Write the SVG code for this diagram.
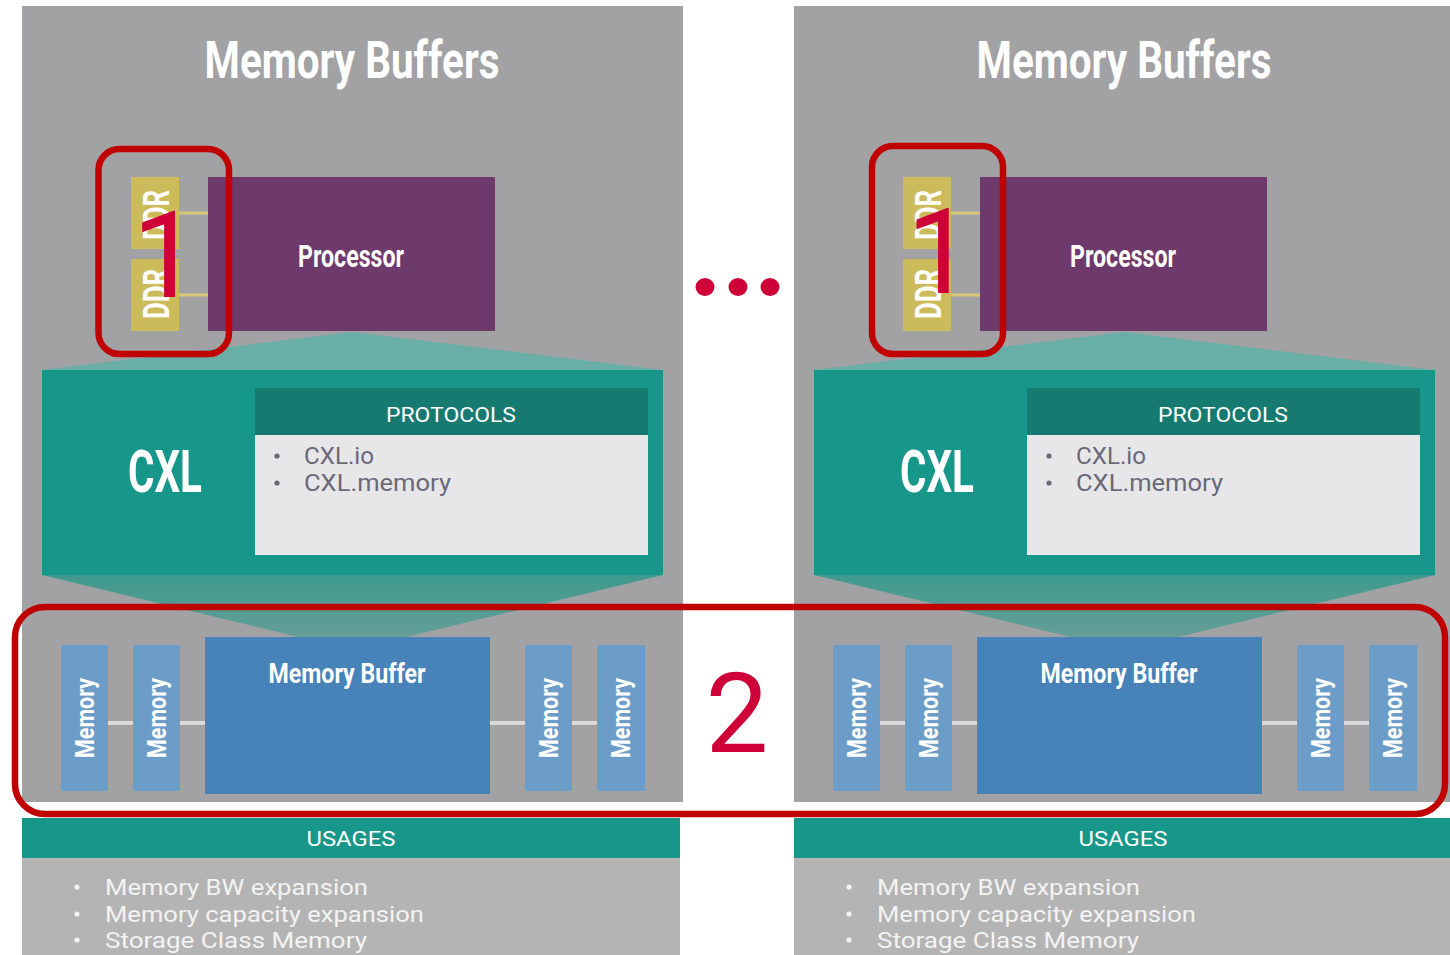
<svg xmlns="http://www.w3.org/2000/svg" width="1450" height="955" viewBox="0 0 1450 955">
<style>
.panel{fill:#a2a2a4}
.proc{fill:#6e3a6b}
.ddr{fill:#ccbb5a}
.cxl{fill:#17978a}
.phead{fill:#167a70}
.pbody{fill:#e7e7ea}
.mem{fill:#6c9dc8}
.buf{fill:#4782b8}
.uhead{fill:#17978a}
.ubody{fill:#b4b4b4}
.ddrline{stroke:#d8c978;stroke-width:3}
.memline{stroke:#dadada;stroke-width:4}
.t{font-family:Roboto,"Liberation Sans",sans-serif;fill:#fff}
.b{font-weight:bold}
.ptxt{font-family:Roboto,"Liberation Sans",sans-serif;fill:#6b6879;font-size:23px}
.utxt{font-family:Roboto,"Liberation Sans",sans-serif;fill:#f3f3f3;font-size:22px}
.redbox{fill:none;stroke:#c00000;stroke-width:6.5}
.num{font-family:Roboto,"Open Sans",sans-serif;fill:#cf0037}
</style>
<defs>
<linearGradient id="lowtri" x1="0" y1="0" x2="0" y2="1">
<stop offset="0" stop-color="#3f9a8d"/>
<stop offset="1" stop-color="#6c9f9a"/>
</linearGradient>
</defs>

<g id="left-panel">
  <rect class="panel" x="22" y="6" width="661" height="796"/>
  <text class="t b" x="352" y="78" font-size="52" text-anchor="middle" textLength="295" lengthAdjust="spacingAndGlyphs">Memory Buffers</text>
  <polygon fill="#69aea7" points="352,332 663,370 42,370"/>
  <polygon fill="url(#lowtri)" points="42,575 663,575 352,650"/>
  <g id="left-processor">
    <rect class="proc" x="208" y="177" width="287" height="154"/>
    <text class="t b" x="351" y="267" font-size="31" text-anchor="middle" textLength="106" lengthAdjust="spacingAndGlyphs">Processor</text>
  </g>
  <g id="left-ddr1">
    <rect class="ddr" x="131" y="177" width="48" height="72"/>
    <text class="t b" transform="translate(155.5,215) rotate(-90)" x="0" y="13" font-size="36" text-anchor="middle" textLength="50" lengthAdjust="spacingAndGlyphs">DDR</text>
  </g>
  <g id="left-ddr2">
    <rect class="ddr" x="131" y="259" width="48" height="72"/>
    <text class="t b" transform="translate(155.5,294) rotate(-90)" x="0" y="13" font-size="36" text-anchor="middle" textLength="50" lengthAdjust="spacingAndGlyphs">DDR</text>
  </g>
  <g id="left-cxl">
    <rect class="cxl" x="42" y="370" width="621" height="205"/>
    <text class="t b" x="165" y="492" font-size="60" text-anchor="middle" textLength="74" lengthAdjust="spacingAndGlyphs">CXL</text>
  </g>
  <g id="left-protocols">
    <rect class="phead" x="255" y="388" width="393" height="47"/>
    <rect class="pbody" x="255" y="435" width="393" height="120"/>
    <text class="t" x="451" y="422" font-size="21" text-anchor="middle" textLength="130" lengthAdjust="spacingAndGlyphs">PROTOCOLS</text>
    <circle cx="277" cy="456" r="2.6" fill="#6b6879"/>
    <circle cx="277" cy="483" r="2.6" fill="#6b6879"/>
    <text class="ptxt" x="304" y="464" textLength="70" lengthAdjust="spacingAndGlyphs">CXL.io</text>
    <text class="ptxt" x="304" y="491" textLength="147" lengthAdjust="spacingAndGlyphs">CXL.memory</text>
  </g>
  <g id="left-connectors">
    <line class="ddrline" x1="179" y1="213" x2="208" y2="213"/>
    <line class="ddrline" x1="179" y1="295" x2="208" y2="295"/>
    <line class="memline" x1="108" y1="723" x2="133" y2="723"/>
    <line class="memline" x1="180" y1="723" x2="205" y2="723"/>
    <line class="memline" x1="490" y1="723" x2="525" y2="723"/>
    <line class="memline" x1="572" y1="723" x2="597" y2="723"/>
  </g>
  <g id="left-mem1">
    <rect class="mem" x="61" y="645" width="47" height="146"/>
    <text class="t b" transform="translate(84.5,718) rotate(-90)" x="0" y="9" font-size="25" text-anchor="middle" textLength="80" lengthAdjust="spacingAndGlyphs">Memory</text>
  </g>
  <g id="left-mem2">
    <rect class="mem" x="133" y="645" width="47" height="146"/>
    <text class="t b" transform="translate(156.5,718) rotate(-90)" x="0" y="9" font-size="25" text-anchor="middle" textLength="80" lengthAdjust="spacingAndGlyphs">Memory</text>
  </g>
  <g id="left-buffer">
    <rect class="buf" x="205" y="637" width="285" height="157"/>
    <text class="t b" x="347" y="683" font-size="28" text-anchor="middle" textLength="157" lengthAdjust="spacingAndGlyphs">Memory Buffer</text>
  </g>
  <g id="left-mem3">
    <rect class="mem" x="525" y="645" width="47" height="146"/>
    <text class="t b" transform="translate(548.5,718) rotate(-90)" x="0" y="9" font-size="25" text-anchor="middle" textLength="80" lengthAdjust="spacingAndGlyphs">Memory</text>
  </g>
  <g id="left-mem4">
    <rect class="mem" x="597" y="645" width="48" height="146"/>
    <text class="t b" transform="translate(621,718) rotate(-90)" x="0" y="9" font-size="25" text-anchor="middle" textLength="80" lengthAdjust="spacingAndGlyphs">Memory</text>
  </g>
  <g id="left-usages">
    <rect class="uhead" x="22" y="818" width="658" height="40"/>
    <rect class="ubody" x="22" y="858" width="658" height="97"/>
    <text class="t" x="351" y="846" font-size="20" text-anchor="middle" textLength="89" lengthAdjust="spacingAndGlyphs">USAGES</text>
    <circle cx="77" cy="887" r="2.6" fill="#f3f3f3"/>
    <circle cx="77" cy="914" r="2.6" fill="#f3f3f3"/>
    <circle cx="77" cy="940" r="2.6" fill="#f3f3f3"/>
    <text class="utxt" x="105" y="895" textLength="263" lengthAdjust="spacingAndGlyphs">Memory BW expansion</text>
    <text class="utxt" x="105" y="922" textLength="319" lengthAdjust="spacingAndGlyphs">Memory capacity expansion</text>
    <text class="utxt" x="105" y="948" textLength="262" lengthAdjust="spacingAndGlyphs">Storage Class Memory</text>
  </g>
</g>

<g id="right-panel" transform="translate(772,0)">
  <rect class="panel" x="22" y="6" width="661" height="796"/>
  <text class="t b" x="352" y="78" font-size="52" text-anchor="middle" textLength="295" lengthAdjust="spacingAndGlyphs">Memory Buffers</text>
  <polygon fill="#69aea7" points="352,332 663,370 42,370"/>
  <polygon fill="url(#lowtri)" points="42,575 663,575 352,650"/>
  <g id="right-processor">
    <rect class="proc" x="208" y="177" width="287" height="154"/>
    <text class="t b" x="351" y="267" font-size="31" text-anchor="middle" textLength="106" lengthAdjust="spacingAndGlyphs">Processor</text>
  </g>
  <g id="right-ddr1">
    <rect class="ddr" x="131" y="177" width="48" height="72"/>
    <text class="t b" transform="translate(155.5,215) rotate(-90)" x="0" y="13" font-size="36" text-anchor="middle" textLength="50" lengthAdjust="spacingAndGlyphs">DDR</text>
  </g>
  <g id="right-ddr2">
    <rect class="ddr" x="131" y="259" width="48" height="72"/>
    <text class="t b" transform="translate(155.5,294) rotate(-90)" x="0" y="13" font-size="36" text-anchor="middle" textLength="50" lengthAdjust="spacingAndGlyphs">DDR</text>
  </g>
  <g id="right-cxl">
    <rect class="cxl" x="42" y="370" width="621" height="205"/>
    <text class="t b" x="165" y="492" font-size="60" text-anchor="middle" textLength="74" lengthAdjust="spacingAndGlyphs">CXL</text>
  </g>
  <g id="right-protocols">
    <rect class="phead" x="255" y="388" width="393" height="47"/>
    <rect class="pbody" x="255" y="435" width="393" height="120"/>
    <text class="t" x="451" y="422" font-size="21" text-anchor="middle" textLength="130" lengthAdjust="spacingAndGlyphs">PROTOCOLS</text>
    <circle cx="277" cy="456" r="2.6" fill="#6b6879"/>
    <circle cx="277" cy="483" r="2.6" fill="#6b6879"/>
    <text class="ptxt" x="304" y="464" textLength="70" lengthAdjust="spacingAndGlyphs">CXL.io</text>
    <text class="ptxt" x="304" y="491" textLength="147" lengthAdjust="spacingAndGlyphs">CXL.memory</text>
  </g>
  <g id="right-connectors">
    <line class="ddrline" x1="179" y1="213" x2="208" y2="213"/>
    <line class="ddrline" x1="179" y1="295" x2="208" y2="295"/>
    <line class="memline" x1="108" y1="723" x2="133" y2="723"/>
    <line class="memline" x1="180" y1="723" x2="205" y2="723"/>
    <line class="memline" x1="490" y1="723" x2="525" y2="723"/>
    <line class="memline" x1="572" y1="723" x2="597" y2="723"/>
  </g>
  <g id="right-mem1">
    <rect class="mem" x="61" y="645" width="47" height="146"/>
    <text class="t b" transform="translate(84.5,718) rotate(-90)" x="0" y="9" font-size="25" text-anchor="middle" textLength="80" lengthAdjust="spacingAndGlyphs">Memory</text>
  </g>
  <g id="right-mem2">
    <rect class="mem" x="133" y="645" width="47" height="146"/>
    <text class="t b" transform="translate(156.5,718) rotate(-90)" x="0" y="9" font-size="25" text-anchor="middle" textLength="80" lengthAdjust="spacingAndGlyphs">Memory</text>
  </g>
  <g id="right-buffer">
    <rect class="buf" x="205" y="637" width="285" height="157"/>
    <text class="t b" x="347" y="683" font-size="28" text-anchor="middle" textLength="157" lengthAdjust="spacingAndGlyphs">Memory Buffer</text>
  </g>
  <g id="right-mem3">
    <rect class="mem" x="525" y="645" width="47" height="146"/>
    <text class="t b" transform="translate(548.5,718) rotate(-90)" x="0" y="9" font-size="25" text-anchor="middle" textLength="80" lengthAdjust="spacingAndGlyphs">Memory</text>
  </g>
  <g id="right-mem4">
    <rect class="mem" x="597" y="645" width="48" height="146"/>
    <text class="t b" transform="translate(621,718) rotate(-90)" x="0" y="9" font-size="25" text-anchor="middle" textLength="80" lengthAdjust="spacingAndGlyphs">Memory</text>
  </g>
  <g id="right-usages">
    <rect class="uhead" x="22" y="818" width="658" height="40"/>
    <rect class="ubody" x="22" y="858" width="658" height="97"/>
    <text class="t" x="351" y="846" font-size="20" text-anchor="middle" textLength="89" lengthAdjust="spacingAndGlyphs">USAGES</text>
    <circle cx="77" cy="887" r="2.6" fill="#f3f3f3"/>
    <circle cx="77" cy="914" r="2.6" fill="#f3f3f3"/>
    <circle cx="77" cy="940" r="2.6" fill="#f3f3f3"/>
    <text class="utxt" x="105" y="895" textLength="263" lengthAdjust="spacingAndGlyphs">Memory BW expansion</text>
    <text class="utxt" x="105" y="922" textLength="319" lengthAdjust="spacingAndGlyphs">Memory capacity expansion</text>
    <text class="utxt" x="105" y="948" textLength="262" lengthAdjust="spacingAndGlyphs">Storage Class Memory</text>
  </g>
</g>

<g id="annotations">
  <rect class="redbox" x="98.5" y="149" width="130.5" height="205" rx="21"/>
  <rect class="redbox" x="872" y="146" width="131" height="208" rx="21"/>
  <rect class="redbox" x="15" y="607" width="1430" height="207" rx="30"/>
  <text class="num" x="166" y="297" font-size="120" text-anchor="middle">1</text>
  <text class="num" x="940" y="293" font-size="118" text-anchor="middle">1</text>
  <text class="num" x="737" y="752" font-size="112" text-anchor="middle">2</text>
  <ellipse cx="705" cy="287" rx="9.5" ry="9" fill="#cf0037"/>
  <ellipse cx="738" cy="287" rx="9.5" ry="9" fill="#cf0037"/>
  <ellipse cx="770" cy="287" rx="9.5" ry="9" fill="#cf0037"/>
</g>
</svg>
